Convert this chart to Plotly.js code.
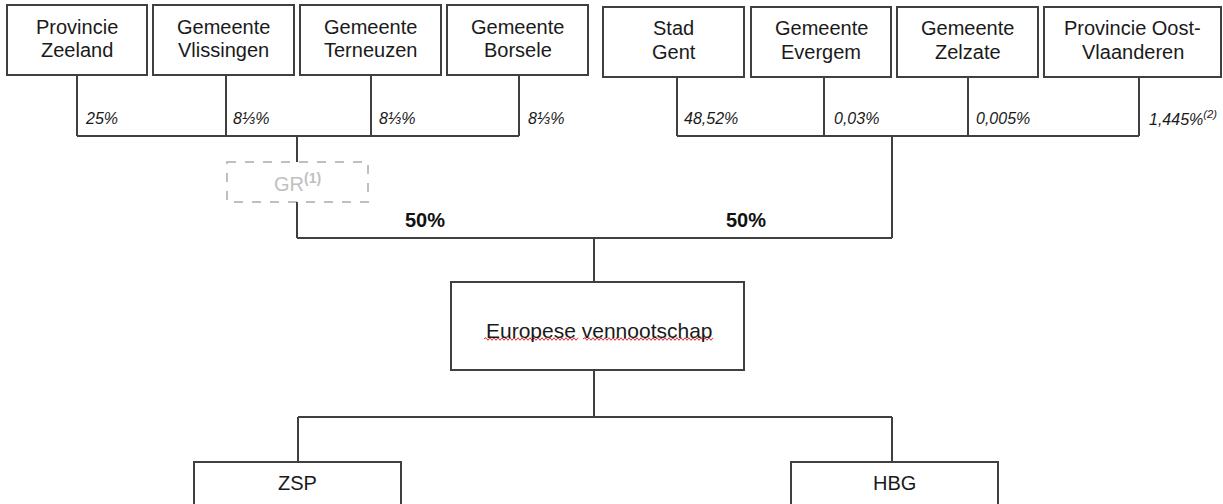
<!DOCTYPE html>
<html><head><meta charset="utf-8">
<script src="https://cdn.plot.ly/plotly-3.0.1.min.js"></script>
<style>html,body{margin:0;padding:0;background:#fff}#chart{width:1223px;height:504px}</style>
</head><body><div id="chart"></div>
<script>
// ---- content (texts / values) ----
const shareholdersNL = ["Provincie<br>Zeeland", "Gemeente<br>Vlissingen", "Gemeente<br>Terneuzen", "Gemeente<br>Borsele"];
const sharesNL = ["25%", "8⅓%", "8⅓%", "8⅓%"];
const shareholdersBE = ["Stad<br>Gent", "Gemeente<br>Evergem", "Gemeente<br>Zelzate", "Provincie Oost-<br>Vlaanderen"];
const sharesBE = ["48,52%", "0,03%", "0,005%", "1,445%<sup>(2)</sup>"];
const intermediateLabel = "GR<sup><b>(1)</b></sup>";
const jointShares = ["50%", "50%"];
const parentLabel = "Europese vennootschap";
const subsidiaries = ["ZSP", "HBG"];

// ---- layout geometry (pixels) ----
const W = 1223, H = 504;
const LINE = '#404040';
const NL = { boxX: [[7,147],[153,294],[300,441],[447,588]], y0: 5, y1: 75, stem: [77,226,371,519], lab: [83,231,377,526], t1: 27, t2: 50 };
const BE = { boxX: [[603,744],[751,891],[897,1038],[1044,1221]], y0: 7, y1: 77, stem: [677,824,968,1139], lab: [682,832,974,1147], t1: 28, t2: 52 };
const BUS_Y = 136, LABEL_Y = 118;
const GR = { x0: 227, x1: 368, y0: 162, y1: 202, cx: 297 };
const JOIN_Y = 238, JOIN_R = 892;
const JOINT_LAB_X = [425, 746], JOINT_LAB_Y = 220;
const PARENT = { x0: 451, x1: 744, y0: 282, y1: 370, cx: 594, ty: 330 };
const SUB_BUS_Y = 417;
const SUBS = [{ x0: 194, x1: 401, cx: 298, tx: 297 }, { x0: 791, x1: 998, cx: 892, tx: 894 }];
const SUB_Y0 = 462, SUB_Y1 = 507, SUB_TY = 483;

const shapes = [], ann = [];
const ln = (x0, y0, x1, y1) => shapes.push({ type: 'line', xref: 'x', yref: 'y', x0, y0, x1, y1, line: { color: LINE, width: 2 } });
const rect = (x0, y0, x1, y1, extra) => shapes.push(Object.assign({ type: 'rect', xref: 'x', yref: 'y', x0, y0, x1, y1, line: { color: LINE, width: 2 }, fillcolor: 'rgba(0,0,0,0)' }, extra || {}));
const txt = (x, y, text, font, xanchor) => ann.push({ x, y, xref: 'x', yref: 'y', text, showarrow: false, xanchor: xanchor || 'center', yanchor: 'middle', font: Object.assign({ family: 'Liberation Sans, Arial, sans-serif', size: 20, color: '#1a1a1a' }, font || {}) });

function group(g, labels, shares) {
  labels.forEach((lab, i) => {
    const [x0, x1] = g.boxX[i];
    rect(x0, g.y0, x1, g.y1);
    const cx = (x0 + x1) / 2;
    const parts = lab.split('<br>');
    txt(cx, g.t1, parts[0]);
    txt(cx, g.t2, parts[1]);
    ln(g.stem[i], g.y1, g.stem[i], BUS_Y);
    txt(g.lab[i], LABEL_Y, shares[i], { size: 16, style: 'italic' }, 'left');
  });
  ln(g.stem[0], BUS_Y, g.stem[g.stem.length - 1], BUS_Y);
}
group(NL, shareholdersNL, sharesNL);
group(BE, shareholdersBE, sharesBE);

// intermediate (dashed) entity
ln(GR.cx, BUS_Y, GR.cx, GR.y0);
rect(GR.x0, GR.y0, GR.x1, GR.y1, { line: { color: '#bfbfbf', width: 2, dash: 'dash' } });
txt(GR.cx, (GR.y0 + GR.y1) / 2, intermediateLabel, { color: '#c0c0c0' });
ln(GR.cx, GR.y1, GR.cx, JOIN_Y);
ln(GR.cx, JOIN_Y, JOIN_R, JOIN_Y);
ln(JOIN_R, BUS_Y, JOIN_R, JOIN_Y);
jointShares.forEach((s, i) => txt(JOINT_LAB_X[i], JOINT_LAB_Y, '<b>' + s + '</b>', { color: '#111' }));

// parent
ln(PARENT.cx, JOIN_Y, PARENT.cx, PARENT.y0);
rect(PARENT.x0, PARENT.y0, PARENT.x1, PARENT.y1);
txt(PARENT.cx + 5, PARENT.ty, parentLabel, { size: 21 });
// spell-check wavy underline
function wave(xa, xb, y) {
  let d = 'M' + xa + ',' + y, up = true;
  for (let x = xa + 2; x <= xb; x += 2) { d += ' L' + x + ',' + (y + (up ? -1.3 : 1.3)); up = !up; }
  shapes.push({ type: 'path', xref: 'x', yref: 'y', path: d, line: { color: '#e03030', width: 1 } });
}
wave(484, 578, 339);
wave(583, 713, 339);

// subsidiaries
ln(PARENT.cx, PARENT.y1, PARENT.cx, SUB_BUS_Y);
ln(SUBS[0].cx, SUB_BUS_Y, SUBS[1].cx, SUB_BUS_Y);
subsidiaries.forEach((s, i) => {
  const b = SUBS[i];
  ln(b.cx, SUB_BUS_Y, b.cx, SUB_Y0);
  rect(b.x0, SUB_Y0, b.x1, SUB_Y1);
  txt(b.tx, SUB_TY, s);
});

Plotly.newPlot('chart', [], {
  width: W, height: H,
  margin: { l: 0, r: 0, t: 0, b: 0 },
  paper_bgcolor: '#fff', plot_bgcolor: '#fff',
  xaxis: { range: [0, W], visible: false, fixedrange: true },
  yaxis: { range: [H, 0], visible: false, fixedrange: true },
  showlegend: false,
  shapes, annotations: ann
}, { displayModeBar: false, staticPlot: true });
</script>
</body></html>
